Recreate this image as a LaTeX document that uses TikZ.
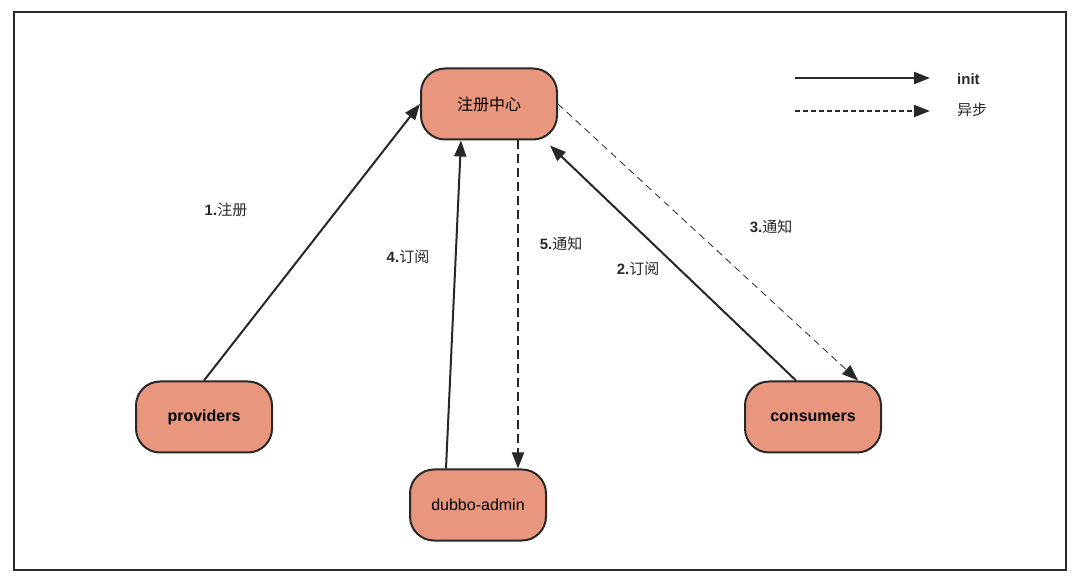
\documentclass[tikz,border=0pt]{standalone}
\usepackage{fontspec}
\setmainfont{Liberation Sans}
\newfontfamily\cjk{Noto Sans CJK SC}
\usetikzlibrary{arrows.meta}
\definecolor{boxfill}{RGB}{232,150,125}
\definecolor{ink}{RGB}{40,40,40}
\begin{document}
\begin{tikzpicture}[
    x=1pt, y=-1pt,
    box/.style={draw=ink, line width=2pt, fill=boxfill, rounded corners=24pt,
      minimum width=136pt, minimum height=71pt, font=\fontsize{16}{18}\selectfont},
    lbl/.style={font=\fontsize{15}{18}\selectfont, text=ink},
    arr/.style={draw=ink, line width=2pt, -{Triangle[length=16pt,width=12pt]}},
    every node/.style={inner sep=0pt}]

    \useasboundingbox (0,0) rectangle (1080,577);
    \draw[line width=1.5pt, ink] (14,12) rectangle (1066,570);

    % Nodes
    \node[box] (reg)   at (489,104) {\cjk 注册中心};
    \node[box] (prov)  at (204,417) {\bfseries providers};
    \node[box] (admin) at (478,505) {dubbo-admin};
    \node[box] (cons)  at (813,417) {\bfseries consumers};

    % Links
    \draw[arr] (prov.north) -- (reg.west);
    \draw[arr] ([xshift=-32pt]admin.north) -- ([xshift=-28pt]reg.south);
    \draw[arr, dashed, dash pattern=on 9pt off 5pt] ([xshift=29pt]reg.south) -- ([xshift=40pt]admin.north);
    \draw[arr] ([xshift=-17pt]cons.north) -- ([xshift=-8pt,yshift=-5pt]reg.south east);
    \draw[arr, line width=0.8pt, dash pattern=on 7pt off 5pt] (reg.east) -- ([xshift=45pt]cons.north);

    % Labels
    \node[lbl] (l1) at (226,210) {\bfseries 1.\cjk\mdseries 注册};
    \node[lbl] (l4) at (408,257) {\bfseries 4.\cjk\mdseries 订阅};
    \node[lbl] (l5) at (561,244) {\bfseries 5.\cjk\mdseries 通知};
    \node[lbl] (l2) at (638,269) {\bfseries 2.\cjk\mdseries 订阅};
    \node[lbl] (l3) at (771,227) {\bfseries 3.\cjk\mdseries 通知};

    % Legend
    \coordinate (s1) at (795,78);  \coordinate (e1) at (930,78);
    \coordinate (s2) at (795,111); \coordinate (e2) at (930,111);
    \draw[arr] (s1) -- (e1);
    \draw[arr, dash pattern=on 5pt off 3pt] (s2) -- (e2);
    \node[lbl, anchor=west] (init) at (957,79) {\bfseries init};
    \node[lbl, anchor=west] (async) at (957,110) {\cjk 异步};
\end{tikzpicture}
\end{document}
